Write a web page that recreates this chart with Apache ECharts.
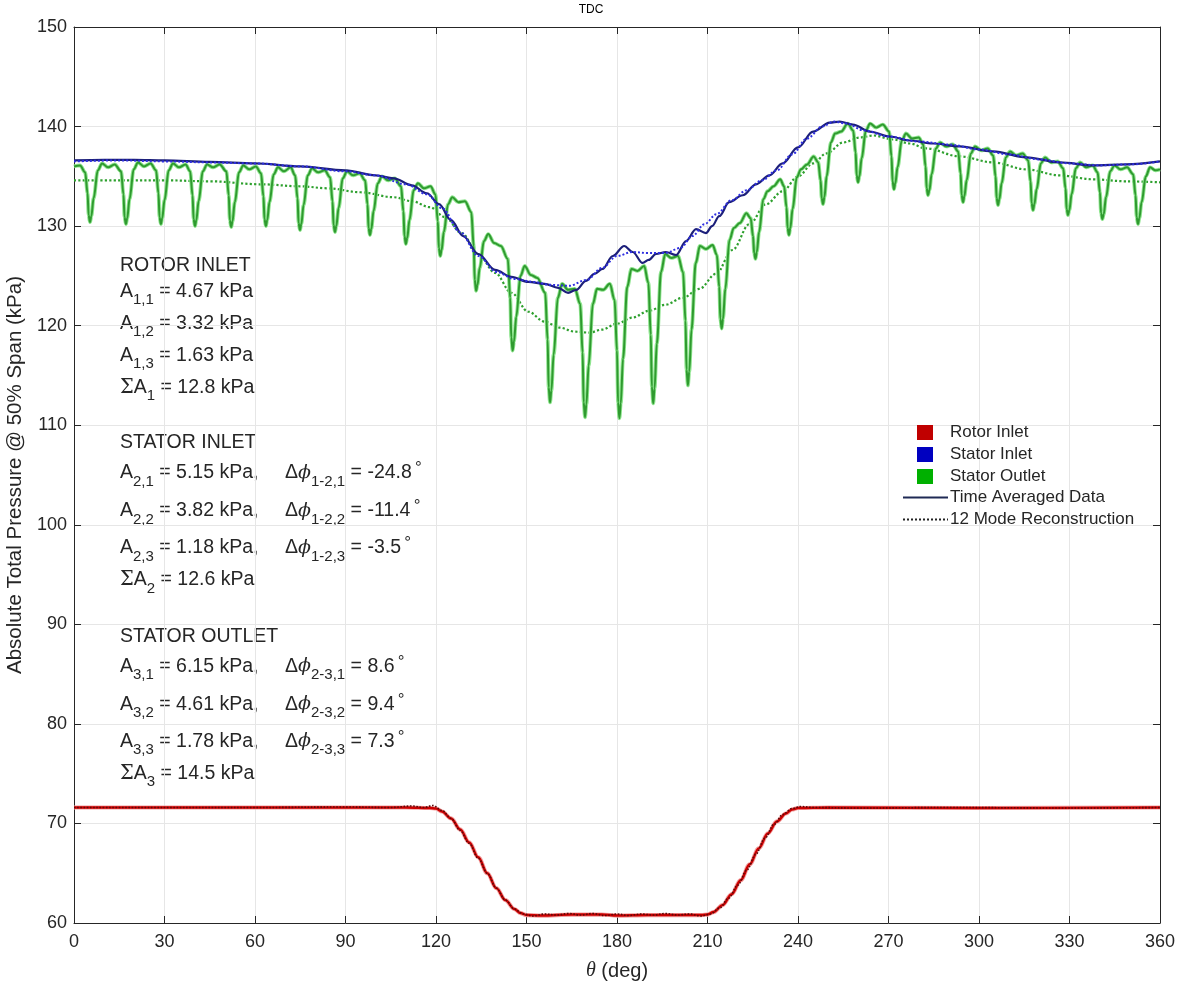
<!DOCTYPE html>
<html><head><meta charset="utf-8">
<script src="https://cdn.jsdelivr.net/npm/echarts@6/dist/echarts.min.js"></script>
<style>html,body{margin:0;padding:0;background:#fff}#c{width:1182px;height:985px}</style>
</head><body><div id="c"></div>
<script>
// ---- data ----
const chartTitle = 'TDC';
const xTickValues = [0,30,60,90,120,150,180,210,240,270,300,330,360];
const yTickValues = [60,70,80,90,100,110,120,130,140,150];

const rotorInletAvg = [[0,71.6],[60,71.6],[110,71.6],[118,71.55],[120,71.5],[122,71.2],[125,70.5],[128,69.4],[131,68.1],[134,66.6],[137,65.0],[140,63.5],[143,62.3],[146,61.4],[148,61.0],[150,60.8],[155,60.75],[165,60.85],[175,60.85],[180,60.75],[190,60.8],[200,60.8],[208,60.8],[210,60.85],[212,61.1],[215,61.8],[218,62.9],[221,64.3],[224,65.9],[227,67.5],[230,69.0],[233,70.2],[236,71.0],[238,71.4],[240,71.55],[250,71.6],[300,71.55],[360,71.6]];
const rotorInletRec = [[0,71.6],[30,71.6],[60,71.6],[90,71.65],[105,71.6],[112,71.75],[116,71.6],[119,71.8],[122,71.3],[125,70.5],[128,69.3],[131,68.0],[134,66.5],[137,65.0],[140,63.5],[143,62.3],[146,61.4],[149,60.9],[152,60.7],[156,60.9],[160,60.8],[164,60.95],[168,60.8],[172,60.95],[176,60.75],[180,60.9],[184,60.75],[188,60.9],[192,60.8],[196,60.95],[200,60.8],[204,60.9],[208,60.7],[211,60.9],[214,61.5],[217,62.5],[220,63.8],[223,65.3],[226,66.9],[229,68.5],[232,69.9],[235,70.9],[238,71.5],[241,71.7],[245,71.6],[260,71.55],[290,71.6],[330,71.55],[360,71.6]];

const statorInletAvg = [[0,136.6],[10,136.65],[20,136.65],[30,136.6],[45,136.45],[60,136.3],[75,136.0],[90,135.6],[100,135.1],[106,134.8],[112,134.1],[117,133.3],[121,132.2],[125,130.6],[129,129.0],[134,127.2],[139.6,125.6],[145,124.9],[150.6,124.4],[156,124.2],[160.5,123.8],[163.8,123.3],[166.5,123.6],[169.7,124.5],[172.5,125.2],[175.2,125.7],[178.6,127.0],[182.4,128.0],[185.2,127.4],[188.5,126.3],[190.5,126.6],[192.9,127.2],[196.2,127.4],[199.6,127.1],[202.9,128.5],[206.2,129.7],[209.5,129.3],[211.5,130.0],[213.9,131.0],[217.2,132.4],[221.7,133.1],[226.1,134.2],[230.5,135.1],[234.9,136.3],[240,137.9],[245,139.5],[250.5,140.4],[253.8,140.5],[258.2,140.2],[263.8,139.5],[270.4,139.0],[277,138.6],[284.8,138.3],[293.6,138.0],[304.6,137.5],[315.7,136.9],[326.7,136.4],[337.8,136.1],[348.8,136.2],[360,136.5]];
const statorInletRec = [[0,136.5],[15,136.6],[30,136.5],[45,136.4],[60,136.3],[75,136.0],[90,135.5],[100,135.1],[110,134.2],[117,133.2],[122,131.8],[128,129.4],[134,127.0],[140,125.4],[146,124.7],[152,124.4],[158,124.1],[164,124.0],[170,124.6],[175,125.8],[180,127.0],[185,127.4],[190,127.3],[196,127.3],[201,127.8],[205,129.0],[209,130.2],[213,131.2],[218,132.6],[223,133.6],[228,134.6],[233,135.6],[238,137.2],[243,138.8],[248,140.0],[252,140.5],[256,140.3],[262,139.6],[270,139.0],[280,138.5],[290,138.2],[300,137.7],[310,137.2],[320,136.7],[330,136.3],[340,136.1],[350,136.2],[360,136.5]];

const statorOutletAvg = [[0,136.0],[2.0,136.1],[3.7,135.4],[4.5,133.3],
[5.3,130.4],[6.5,132.8],[7.9,135.6],[9.3,136.3],[11.3,135.9],[13.5,136.2],[15.6,135.5],[16.4,133.2],
[17.2,130.2],[18.4,132.7],[19.8,135.7],[21.2,136.4],[23.2,136.0],[25.4,136.3],[27.2,135.6],[28.0,133.3],
[28.8,130.2],[30.0,132.6],[31.4,135.6],[32.8,136.3],[34.8,135.9],[37.0,136.2],[38.5,135.5],[39.3,133.1],
[40.1,130.0],[41.3,132.5],[42.7,135.5],[44.1,136.2],[46.1,135.9],[48.3,136.2],[50.5,135.5],[51.3,133.1],
[52.1,129.9],[53.3,132.4],[54.7,135.4],[56.1,136.1],[58.1,135.7],[60.3,136.0],[62.0,135.3],[62.8,133.0],
[63.6,130.0],[64.8,132.4],[66.2,135.2],[67.6,135.9],[69.6,135.5],[71.8,135.9],[73.3,135.1],[74.1,132.8],
[74.9,129.6],[76.1,132.1],[77.5,135.1],[78.9,135.8],[80.9,135.4],[83.1,135.6],[84.9,134.9],[85.7,132.5],
[86.5,129.4],[87.7,131.8],[89.1,134.8],[90.5,135.5],[92.5,135.1],[94.7,135.3],[96.5,134.6],[97.3,132.2],
[98.1,129.1],[99.3,131.5],[100.7,134.3],[102.1,135.0],[104.1,134.6],[106.3,134.8],[108.4,134.0],[109.2,131.5],
[110.0,128.2],[111.2,130.6],[112.6,133.6],[114.0,134.3],[116.0,133.8],[118.2,134.0],[119.8,133.2],[120.6,130.5],
[121.4,127.0],[122.6,129.4],[124.0,132.2],[125.4,132.9],[127.4,132.4],[129.6,132.5],[131.7,131.4],[132.5,128.0],
[133.3,123.5],[134.5,125.8],[135.9,128.5],[137.3,129.2],[139.3,128.3],[141.5,128.0],[143.8,126.7],[144.6,122.8],
[145.4,117.5],[146.6,120.9],[148.0,125.0],[149.4,126.0],[151.4,125.1],[153.6,124.8],[156.2,123.3],[157.0,118.6],
[157.8,112.3],[159.0,117.1],[160.4,122.8],[161.8,124.2],[163.8,123.6],[166.0,123.7],[167.8,122.2],[168.6,117.3],
[169.4,110.8],[170.6,116.0],[172.0,122.2],[173.4,123.7],[175.4,123.6],[177.6,124.2],[179.2,122.6],[180.0,117.5],
[180.8,110.7],[182.0,116.7],[183.4,123.9],[184.8,125.7],[186.8,125.5],[189.0,126.0],[190.4,124.3],[191.2,119.1],
[192.0,112.2],[193.2,118.2],[194.6,125.4],[196.0,127.2],[198.0,126.8],[200.2,127.0],[201.9,125.4],[202.7,120.5],
[203.5,114.0],[204.7,119.6],[206.1,126.3],[207.5,128.0],[209.5,127.7],[211.7,128.1],[213.1,127.1],[213.9,123.9],
[214.7,119.7],[215.9,123.7],[217.3,128.6],[218.7,129.8],[220.7,130.3],[222.9,131.3],[224.3,130.8],[225.1,129.0],
[225.9,126.7],[227.1,129.4],[228.5,132.7],[229.9,133.5],[231.9,134.0],[234.1,134.7],[235.4,134.0],[236.2,131.9],
[237.0,129.1],[238.2,131.7],[239.6,134.9],[241.0,135.7],[243.0,136.2],[245.2,137.0],[246.7,136.4],[247.5,134.6],
[248.3,132.2],[249.5,135.0],[250.9,138.4],[252.3,139.3],[254.3,139.5],[256.5,140.3],[258.3,139.6],[259.1,137.4],
[259.9,134.4],[261.1,136.8],[262.5,139.6],[263.9,140.3],[265.9,139.9],[268.1,140.2],[270.2,139.5],[271.0,137.0],
[271.8,133.7],[273.0,135.9],[274.4,138.6],[275.8,139.3],[277.8,138.8],[280.0,138.9],[281.5,138.2],[282.3,136.0],
[283.1,133.1],[284.3,135.2],[285.7,137.8],[287.1,138.4],[289.1,138.0],[291.3,138.2],[293.1,137.5],[293.9,135.3],
[294.7,132.4],[295.9,134.6],[297.3,137.3],[298.7,138.0],[300.7,137.6],[302.9,137.8],[304.7,137.1],[305.5,135.0],
[306.3,132.1],[307.5,134.3],[308.9,136.9],[310.3,137.5],[312.3,137.1],[314.5,137.3],[316.3,136.6],[317.1,134.5],
[317.9,131.6],[319.1,133.7],[320.5,136.3],[321.9,136.9],[323.9,136.4],[326.1,136.5],[327.9,135.8],[328.7,133.8],
[329.5,131.1],[330.7,133.2],[332.1,135.8],[333.5,136.4],[335.5,135.9],[337.7,136.1],[339.3,135.4],[340.1,133.4],
[340.9,130.7],[342.1,132.9],[343.5,135.5],[344.9,136.1],[346.9,135.7],[349.1,135.9],[351.1,135.2],[351.9,133.1],
[352.7,130.2],[353.9,132.4],[355.3,135.0],[356.7,135.9],[358.5,135.6],[360,135.7]];
// extra points read just either side of each dip (rounded dip bottoms)
const statorOutletDipShoulders = [[4.85,131.1],[5.75,131.0],[16.75,130.9],[17.65,130.8],[28.35,130.9],[29.25,130.8],[39.65,130.7],[40.55,130.6],[51.65,130.6],[52.55,130.5],[63.15,130.7],[64.05,130.6],[74.45,130.3],[75.35,130.2],[86.05,130.1],[86.95,130.0],[97.65,129.8],[98.55,129.7],[109.55,129.0],[110.45,128.8],[120.95,127.8],[121.85,127.6],[132.85,124.6],[133.75,124.1],[144.95,118.8],[145.85,118.4],[157.35,113.8],[158.25,113.5],[168.95,112.3],[169.85,112.1],[180.35,112.3],[181.25,112.2],[191.55,113.9],[192.45,113.7],[203.05,115.6],[203.95,115.4],[214.25,120.7],[215.15,120.7],[225.45,127.3],[226.35,127.4],[236.55,129.8],[237.45,129.8],[247.85,132.8],[248.75,132.9],[259.45,135.1],[260.35,135.0],[271.35,134.5],[272.25,134.3],[282.65,133.8],[283.55,133.6],[294.25,133.1],[295.15,133.0],[305.85,132.8],[306.75,132.7],[317.45,132.3],[318.35,132.2],[329.05,131.7],[329.95,131.6],[340.45,131.3],[341.35,131.2],[352.25,130.9],[353.15,130.8]];
const statorOutletRec = [[0,134.6],[15,134.6],[30,134.6],[45,134.5],[62,134.2],[75,134.0],[84,133.8],[95,133.4],[106,132.9],[112,132.5],[118,131.9],[123,130.9],[128.5,129.3],[134,127.2],[139.6,125.3],[145,123.3],[150.6,121.4],[156,120.4],[161,119.8],[166,119.4],[170.8,119.3],[175,119.6],[180,120.2],[185,120.8],[190.7,121.5],[196,122.1],[201.8,122.8],[207.3,123.7],[212.8,125.2],[218.3,127.6],[223.9,130.2],[229.4,132.2],[234.9,133.5],[240,135.0],[245,136.3],[249.4,137.3],[255,138.4],[260.4,138.9],[265,139.1],[271.5,138.7],[277,138.3],[282.5,137.8],[293.6,137.0],[304.6,136.4],[315.7,135.7],[326.7,135.1],[337.8,134.7],[348.8,134.5],[360,134.4]];

const legendStations = ['Rotor Inlet','Stator Inlet','Stator Outlet'];
const legendStyles = ['Time Averaged Data','12 Mode Reconstruction'];

// annotation text (rich-text markup), left column and right column per block
const annoBlocks = [
  { title:'ROTOR INLET', rows:[
    ['{b|A}{s|1,1}{b| = 4.67 kPa}', ''],
    ['{b|A}{s|1,2}{b| = 3.32 kPa}', ''],
    ['{b|A}{s|1,3}{b| = 1.63 kPa}', ''],
    ['{g|Σ}{b|A}{s|1}{b| = 12.8 kPa}', '']]},
  { title:'STATOR INLET', rows:[
    ['{b|A}{s|2,1}{b| = 5.15 kPa,}', '{b|Δ}{p|ϕ}{s|1-2,1}{b| = -24.8}{d|∘}'],
    ['{b|A}{s|2,2}{b| = 3.82 kPa,}', '{b|Δ}{p|ϕ}{s|1-2,2}{b| = -11.4}{d|∘}'],
    ['{b|A}{s|2,3}{b| = 1.18 kPa,}', '{b|Δ}{p|ϕ}{s|1-2,3}{b| = -3.5}{d|∘}'],
    ['{g|Σ}{b|A}{s|2}{b| = 12.6 kPa}', '']]},
  { title:'STATOR OUTLET', rows:[
    ['{b|A}{s|3,1}{b| = 6.15 kPa,}', '{b|Δ}{p|ϕ}{s|2-3,1}{b| = 8.6}{d|∘}'],
    ['{b|A}{s|3,2}{b| = 4.61 kPa,}', '{b|Δ}{p|ϕ}{s|2-3,2}{b| = 9.4}{d|∘}'],
    ['{b|A}{s|3,3}{b| = 1.78 kPa,}', '{b|Δ}{p|ϕ}{s|2-3,3}{b| = 7.3}{d|∘}'],
    ['{g|Σ}{b|A}{s|3}{b| = 14.5 kPa}', '']]}
];

// ---- layout / style ----
const FONT = 'Liberation Sans, Arial, Helvetica, sans-serif';
const TXT = '#262626';
const rich = {
  b:{fontSize:19.5, lineHeight:32, fontFamily:FONT, color:TXT},
  g:{fontSize:19.5, lineHeight:32, fontFamily:'DejaVu Serif, Liberation Serif, serif', color:TXT},
  p:{fontSize:19, lineHeight:32, fontFamily:'DejaVu Serif, Liberation Serif, serif', fontStyle:'italic', color:TXT},
  s:{fontSize:15, lineHeight:8, verticalAlign:'bottom', fontFamily:FONT, color:TXT},
  d:{fontSize:15, lineHeight:6, verticalAlign:'top', fontFamily:'DejaVu Sans, sans-serif', color:TXT, padding:[0,0,0,2]}
};
const blockTop = [265.5, 443, 636.5];
const rowGapsPlain = [26, 32, 32, 32];
const rowGapsPhase = [30, 38, 37, 32];

const graphics = [];
annoBlocks.forEach((blk, bi) => {
  let y = blockTop[bi];
  graphics.push({type:'text', x:120, y:y, style:{text:blk.title, font:'19.5px '+FONT, fill:TXT, verticalAlign:'middle'}});
  const gaps = bi === 0 ? rowGapsPlain : rowGapsPhase;
  blk.rows.forEach((r, ri) => {
    y += gaps[ri];
    graphics.push({type:'text', x:120, y:y, style:{text:r[0], rich:rich, verticalAlign:'middle', fill:TXT}});
    if (r[1]) graphics.push({type:'text', x:285, y:y, style:{text:r[1], rich:rich, verticalAlign:'middle', fill:TXT}});
  });
});

const chart = echarts.init(document.getElementById('c'), null, {renderer:'canvas'});
const axisCommon = {
  axisLine:{show:true, onZero:false, lineStyle:{color:'#262626', width:1}},
  axisTick:{show:true, inside:true, length:7, lineStyle:{color:'#262626'}},
};
const lineS = (name, data, color, width, type, z) => ({
  type:'line', name:name, data:data, showSymbol:false, symbol:'none', smooth:0.35, smoothMonotone:'x',
  lineStyle:{color:color, width:width, type:type}, itemStyle:{color:color}, z:z, silent:true, animation:false
});
const greenAvg = statorOutletAvg.concat(statorOutletDipShoulders).sort((a, b) => a[0] - b[0]);

chart.setOption({
  animation:false,
  backgroundColor:'#fff',
  title:{text:chartTitle, left:'center', top:4, padding:0, textStyle:{fontSize:12, fontWeight:'normal', color:'#000', fontFamily:FONT}},
  grid:{left:74, right:22, top:27, bottom:62, containLabel:false, outerBoundsMode:'none'},
  legend:[
    {data:legendStations, orient:'vertical', left:917, top:424, padding:0, icon:'rect', itemWidth:16, itemHeight:15, itemGap:5,
     textStyle:{fontSize:17, color:TXT, fontFamily:FONT, padding:[0,0,0,12]}, selectedMode:false},
    {data:legendStyles, orient:'vertical', left:902, top:489, padding:0, itemWidth:45, itemHeight:14, itemGap:5,
     itemStyle:{opacity:0},
     textStyle:{fontSize:17, color:TXT, fontFamily:FONT, padding:[0,0,0,-3]}, selectedMode:false}
  ],
  xAxis:[
    Object.assign({type:'value', min:0, max:360, interval:30, position:'bottom',
      name:'{i|θ} (deg)', nameLocation:'middle', nameGap:38,
      nameTextStyle:{fontSize:20, color:TXT, fontFamily:FONT, rich:{i:{fontSize:20, fontStyle:'italic', fontFamily:'Liberation Serif, serif', color:TXT}}},
      axisLabel:{fontSize:18, color:TXT, fontFamily:FONT, margin:10, customValues:xTickValues},
      splitLine:{show:true, lineStyle:{color:'#e6e6e6', width:1}}}, axisCommon),
    Object.assign({type:'value', min:0, max:360, interval:30, position:'top', axisLabel:{show:false}, splitLine:{show:false}}, axisCommon)
  ],
  yAxis:[
    Object.assign({type:'value', min:60, max:150, interval:10, position:'left',
      name:'Absolute Total Pressure @ 50% Span (kPa)', nameLocation:'middle', nameGap:41,
      nameTextStyle:{fontSize:20.5, color:TXT, fontFamily:FONT},
      axisLabel:{fontSize:18, color:TXT, fontFamily:FONT, margin:7, customValues:yTickValues},
      splitLine:{show:true, lineStyle:{color:'#e6e6e6', width:1}}}, axisCommon),
    Object.assign({type:'value', min:60, max:150, interval:10, position:'right', axisLabel:{show:false}, splitLine:{show:false}}, axisCommon)
  ],
  series:[
    lineS('ri_halo', rotorInletAvg, '#f2a0a0', 4.2, 'solid', 2),
    lineS('ri_avg', rotorInletAvg, '#cc0000', 2.4, 'solid', 3),
    lineS('ri_rec', rotorInletRec, '#5a0a0a', 1.6, 'dotted', 4),
    lineS('so_rec', statorOutletRec, '#2ea02e', 2.2, 'dotted', 3),
    lineS('so_halo', greenAvg, '#8fe58f', 3.8, 'solid', 3),
    lineS('so_avg', greenAvg, '#2f9a2f', 2.0, 'solid', 4),
    lineS('si_rec', statorInletRec, '#2f2fe0', 2.0, 'dotted', 6),
    lineS('si_avg', statorInletAvg, '#1c1f7a', 2.2, 'solid', 5),
    {type:'line', name:'Rotor Inlet', data:[], itemStyle:{color:'#c00000'}, lineStyle:{color:'#c00000'}},
    {type:'line', name:'Stator Inlet', data:[], itemStyle:{color:'#0000c0'}, lineStyle:{color:'#0000c0'}},
    {type:'line', name:'Stator Outlet', data:[], itemStyle:{color:'#00b000'}, lineStyle:{color:'#00b000'}},
    {type:'line', name:'Time Averaged Data', data:[], symbol:'none', itemStyle:{color:'#1f2a55'}, lineStyle:{color:'#1f2a55', width:2, type:'solid'}},
    {type:'line', name:'12 Mode Reconstruction', data:[], symbol:'none', itemStyle:{color:'#222'}, lineStyle:{color:'#222', width:1.6, type:'dotted'}}
  ],
  graphic: graphics
});
</script>
</body></html>
